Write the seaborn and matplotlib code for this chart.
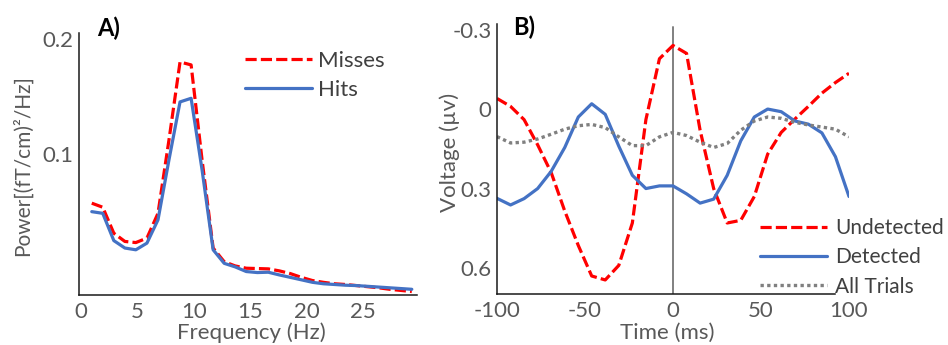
import numpy as np
import pandas as pd
import matplotlib
matplotlib.use("Agg")
import matplotlib.pyplot as plt
from matplotlib.ticker import FixedLocator, NullLocator
import seaborn as sns

# ---------------- data ----------------
freq_hz = [0.98, 1.95, 2.93, 3.91, 4.88, 5.86, 6.84, 7.81, 8.79, 9.77,
           10.74, 11.72, 12.70, 13.67, 14.65, 15.63, 16.60, 17.58, 18.55, 19.53,
           20.51, 21.48, 22.46, 23.44, 24.41, 25.39, 26.37, 27.34, 28.32, 29.30]
power_misses = [0.0747, 0.0729, 0.0624, 0.0594, 0.0590, 0.0606, 0.0703, 0.109, 0.174, 0.171,
                0.0968, 0.0571, 0.0526, 0.0513, 0.0506, 0.0505, 0.0504, 0.0498, 0.0490, 0.0479,
                0.0470, 0.0465, 0.0461, 0.0459, 0.0456, 0.0453, 0.0450, 0.0446, 0.0443, 0.0440]
power_hits = [0.0710, 0.0703, 0.0597, 0.0571, 0.0565, 0.0588, 0.0676, 0.0968, 0.137, 0.140,
              0.0912, 0.0565, 0.0521, 0.0510, 0.0496, 0.0493, 0.0494, 0.0486, 0.0479, 0.0472,
              0.0465, 0.0461, 0.0459, 0.0457, 0.0456, 0.0454, 0.0452, 0.0450, 0.0448, 0.0446]

time_ms = [-100, -92.3, -84.6, -76.9, -69.2, -61.5, -53.8, -46.2, -38.5, -30.8,
           -23.1, -15.4, -7.7, 0, 7.7, 15.4, 23.1, 30.8, 38.5, 46.2,
           53.8, 61.5, 69.2, 76.9, 84.6, 92.3, 100]
volt_undetected = [-0.04, -0.01, 0.04, 0.135, 0.24, 0.385, 0.515, 0.63, 0.645, 0.59,
                   0.43, 0.04, -0.19, -0.24, -0.21, 0.08, 0.30, 0.43, 0.42, 0.33,
                   0.17, 0.088, 0.038, -0.01, -0.06, -0.10, -0.135]
volt_detected = [0.337, 0.362, 0.338, 0.30, 0.235, 0.145, 0.03, -0.02, 0.02, 0.14,
                 0.25, 0.30, 0.29, 0.29, 0.32, 0.355, 0.34, 0.25, 0.12, 0.03,
                 0.0, 0.01, 0.045, 0.057, 0.09, 0.18, 0.33]
volt_all = [0.104, 0.128, 0.125, 0.113, 0.095, 0.076, 0.063, 0.058, 0.07, 0.105,
            0.138, 0.138, 0.105, 0.088, 0.10, 0.125, 0.145, 0.13, 0.08, 0.045,
            0.03, 0.035, 0.05, 0.06, 0.068, 0.076, 0.105]

freq_ticks = [0, 5, 10, 15, 20, 25]
power_ticks = [0.1, 0.2]
time_ticks = [-100, -50, 0, 50, 100]
volt_ticks = [-0.3, 0, 0.3, 0.6]

# ---------------- style ----------------
sns.set_theme(style="white")
plt.rcParams['font.family'] = ['Lato', 'DejaVu Sans']

W, H = 948, 345
fig = plt.figure(figsize=(W / 100, H / 100), dpi=100)

def box(l, r, t, b):
    return [l / W, 1 - b / H, (r - l) / W, (b - t) / H]

TICK_C = "#595959"
RED = "#FF0000"
BLUE = "#4472C4"
GRAY = "#808080"
FS = 16

# ---------------- panel A ----------------
axA = fig.add_axes(box(79, 417, 33, 295))
dfA = pd.DataFrame({"f": freq_hz, "m": power_misses, "h": power_hits})
sns.lineplot(data=dfA, x="f", y="m", ax=axA, color=RED, lw=2.3,
             linestyle=(0, (3.5, 1.3)), label="Misses")
sns.lineplot(data=dfA, x="f", y="h", ax=axA, color=BLUE, lw=2.3,
             label="Hits")
axA.set_yscale("log")
axA.set_ylim(0.0431, 0.207)
axA.set_xlim(-0.15, 29.76)
axA.yaxis.set_major_locator(FixedLocator(power_ticks))
axA.yaxis.set_minor_locator(NullLocator())
axA.set_yticklabels(["0.1", "0.2"])
axA.set_xticks(freq_ticks)
axA.set_xticklabels([str(t) for t in freq_ticks])
axA.set_xlabel("")
axA.set_ylabel("")
axA.legend_.remove()

# ---------------- panel B ----------------
axB = fig.add_axes(box(497, 849, 24, 294))
dfB = pd.DataFrame({"t": time_ms, "u": volt_undetected, "d": volt_detected, "a": volt_all})
axB.axvline(0, color=GRAY, lw=1.4, ymin=0, ymax=(294 - 27) / 270, zorder=1)
sns.lineplot(data=dfB, x="t", y="u", ax=axB, color=RED, lw=2.3,
             linestyle=(0, (3.5, 1.3)), label="Undetected")
sns.lineplot(data=dfB, x="t", y="d", ax=axB, color=BLUE, lw=2.3,
             label="Detected")
sns.lineplot(data=dfB, x="t", y="a", ax=axB, color=GRAY, lw=2.4,
             linestyle=(0, (1, 1)), label="All Trials")
axB.set_xlim(-100, 100)
axB.set_ylim(0.698, -0.321)
axB.set_yticks(volt_ticks)
axB.set_yticklabels(["-0.3", "0", "0.3", "0.6"])
axB.set_xticks(time_ticks)
axB.set_xticklabels(["-100", "-50", "0", "50", "100"])
axB.set_xlabel("")
axB.set_ylabel("")
axB.legend_.remove()
axB.spines["bottom"].set_bounds(-100, 92)

for ax in (axA, axB):
    for s in ("top", "right"):
        ax.spines[s].set_visible(False)
    for s in ("left", "bottom"):
        ax.spines[s].set_color("#1a1a1a")
        ax.spines[s].set_linewidth(1.1)
    ax.tick_params(axis="both", length=0, labelsize=FS, labelcolor=TICK_C)
    ax.tick_params(axis="y", pad=4)
    ax.tick_params(axis="x", pad=5)
    ax.set_facecolor("none")
    ax.grid(False)

# legends
hA = axA.get_lines()
legA = fig.legend(hA[:2], ["Misses", "Hits"], loc="upper left",
                  bbox_to_anchor=(245 / W, 1 - 51 / H), frameon=False,
                  fontsize=FS, handlelength=3.0, handletextpad=0.3,
                  labelspacing=0.4, borderpad=0, borderaxespad=0)
for t in legA.get_texts():
    t.set_color("#404040")

hB = [l for l in axB.get_lines() if l.get_label() in ("Undetected", "Detected", "All Trials")]
legB = fig.legend(hB, ["Undetected", "Detected", "All Trials"], loc="upper left",
                  bbox_to_anchor=(760 / W, 1 - 218 / H), frameon=False,
                  fontsize=15, handlelength=3.2, handletextpad=0.4,
                  labelspacing=0.45, borderpad=0, borderaxespad=0)
for t in legB.get_texts():
    t.set_color("#404040")

# axis labels & panel letters
fig.text(23 / W, 1 - 166 / H, "Power[(fT/cm)²/Hz]", rotation=90, ha="center", va="center",
         fontsize=15, color=TICK_C)
fig.text(251 / W, 1 - 333 / H, "Frequency (Hz)", ha="center", va="center",
         fontsize=FS, color=TICK_C)
fig.text(450 / W, 1 - 152 / H, "Voltage (µv)", rotation=90, ha="center", va="center",
         fontsize=FS, color=TICK_C)
fig.text(667 / W, 1 - 333 / H, "Time (ms)", ha="center", va="center",
         fontsize=FS, color=TICK_C)
fig.text(97 / W, 1 - 28 / H, "A)", ha="left", va="center", fontsize=17,
         fontweight="bold", color="black")
fig.text(513 / W, 1 - 27 / H, "B)", ha="left", va="center", fontsize=17,
         fontweight="bold", color="black")

fig.savefig("out.png", dpi=100, facecolor="white")
